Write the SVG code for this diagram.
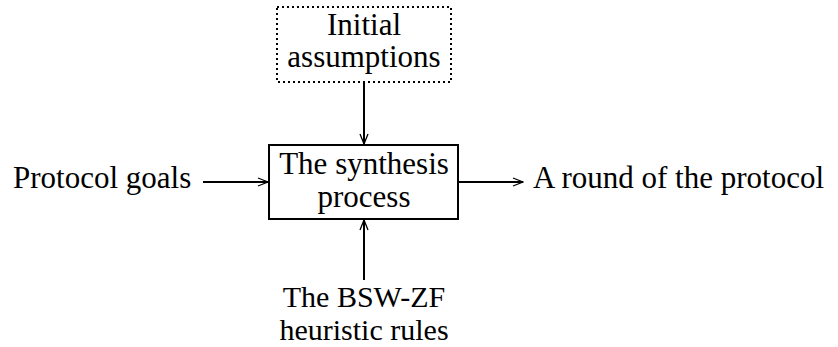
<svg xmlns="http://www.w3.org/2000/svg" width="838" height="347" viewBox="0 0 838 347">
<style>
text{font-family:"Liberation Serif","Times New Roman","DejaVu Serif",serif;font-size:31px;fill:#000}
.c{text-anchor:middle}
.ln{stroke:#000;stroke-width:2;fill:none}
</style>
<defs>
<marker id="ah" viewBox="0 0 12 10" refX="11" refY="5" markerWidth="12" markerHeight="10" markerUnits="userSpaceOnUse" orient="auto">
<path d="M1,1 L11,5 L1,9" fill="none" stroke="#000" stroke-width="1.3"/>
</marker>
</defs>
<rect width="838" height="347" fill="#fff"/>
<g id="assumptions">
<rect x="277" y="7" width="174" height="75" fill="none" stroke="#000" stroke-width="2" stroke-dasharray="2,3"/>
<text class="c" x="364" y="35"><tspan x="364" y="35">Initial</tspan><tspan x="364" y="67">assumptions</tspan></text>
</g>
<g id="synthesis">
<rect x="269" y="145" width="189" height="74" fill="none" stroke="#000" stroke-width="2"/>
<text class="c" x="364" y="174"><tspan x="364" y="174">The synthesis</tspan><tspan x="364" y="207">process</tspan></text>
</g>
<g id="goals">
<text x="13" y="188">Protocol goals</text>
</g>
<g id="round">
<text x="533" y="188">A round of the protocol</text>
</g>
<g id="rules">
<text class="c" x="364" y="307" style="font-size:30px"><tspan x="364" y="307">The BSW-ZF</tspan><tspan x="364" y="340">heuristic rules</tspan></text>
</g>
<g id="connectors">
<line class="ln" x1="364" y1="82" x2="364" y2="144" marker-end="url(#ah)"/>
<line class="ln" x1="203" y1="182" x2="268" y2="182" marker-end="url(#ah)"/>
<line class="ln" x1="458" y1="182" x2="523" y2="182" marker-end="url(#ah)"/>
<line class="ln" x1="364" y1="280" x2="364" y2="220" marker-end="url(#ah)"/>
</g>
</svg>
